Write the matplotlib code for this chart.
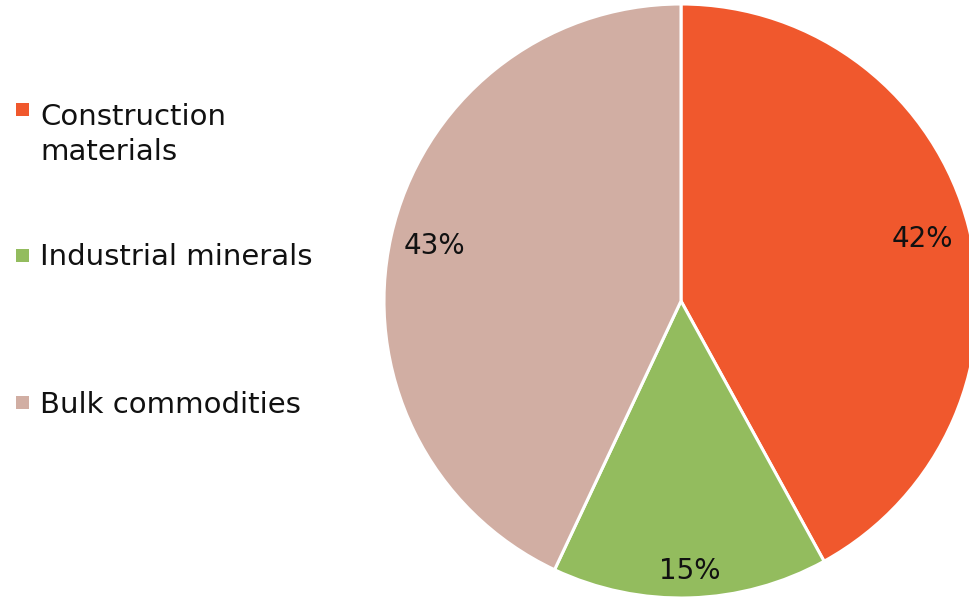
import matplotlib
matplotlib.use('Agg')
import matplotlib.pyplot as plt
from matplotlib.patches import Rectangle
import numpy as np

categories = ['Construction\nmaterials', 'Industrial minerals', 'Bulk commodities']
shares = [42, 15, 43]
colors = ['#F0582D', '#93BC5E', '#D1AEA3']

W, H = 970, 598
fig = plt.figure(figsize=(W / 100, H / 100), dpi=100)
plt.rcParams['font.family'] = ['DejaVu Sans']

# pie placed by pixel centre and radius
cx, cy, r = 681, 301, 297
ax = fig.add_axes([(cx - r) / W, (H - cy - r) / H, 2 * r / W, 2 * r / H])
wedges, _ = ax.pie(shares, colors=colors, startangle=90, counterclock=False,
                   wedgeprops=dict(edgecolor='white', linewidth=2.2))
ax.set_xlim(-1, 1)
ax.set_ylim(-1, 1)
ax.set_aspect('equal')

# percentage labels at the mid-angle of each wedge
label_dist = [0.84, 0.91, 0.85]
for w, val, d in zip(wedges, shares, label_dist):
    ang = np.deg2rad((w.theta1 + w.theta2) / 2)
    ax.text(d * np.cos(ang), d * np.sin(ang), f'{val}%',
            ha='center', va='center', fontsize=20, color='#111111')

# legend drawn by hand (entries are not evenly spaced in the original)
last_baselines = [160, 265, 413]
square_centres = [109, 255, 402]
for lab, col, yb, ys in zip(categories, colors, last_baselines, square_centres):
    fig.patches.append(Rectangle((16 / W, (H - ys - 6.5) / H), 13 / W, 13 / H,
                                 transform=fig.transFigure, facecolor=col,
                                 edgecolor='none'))
    fig.text(40 / W, (H - yb) / H, lab, ha='left', va='baseline',
             fontsize=21, color='#111111', linespacing=1.33)

fig.savefig('out.png', dpi=100)
